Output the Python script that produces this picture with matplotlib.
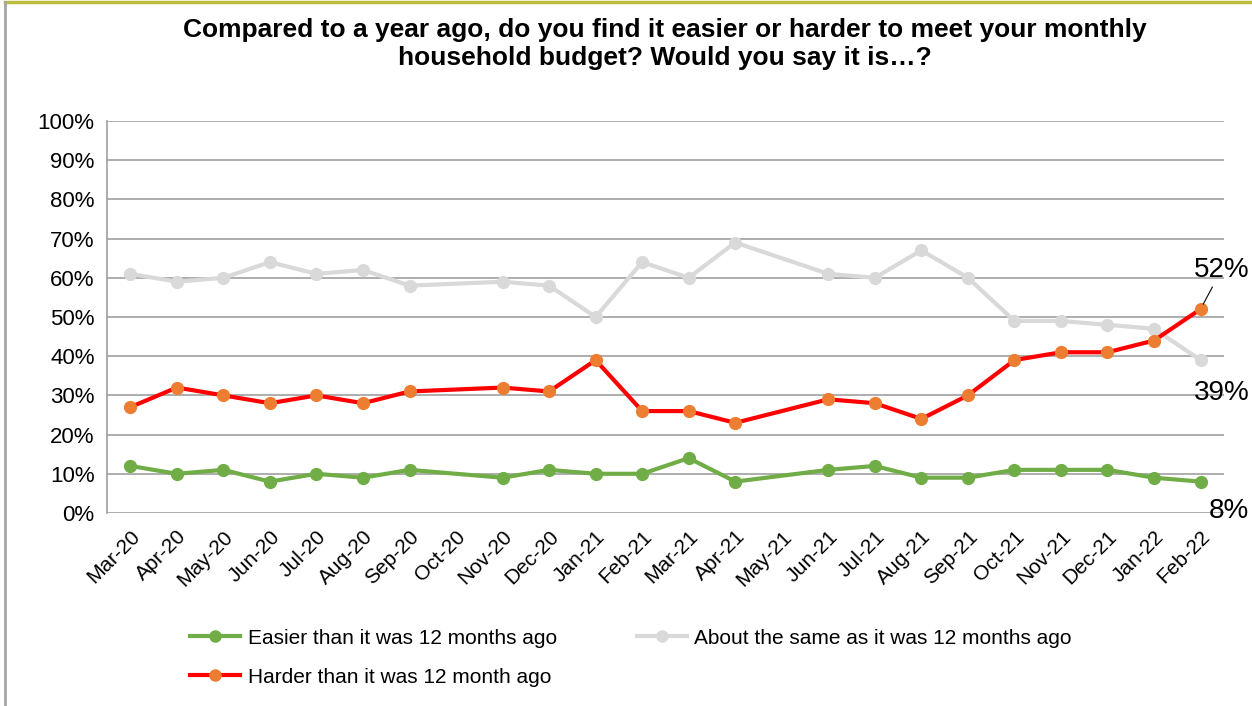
import numpy as np
import matplotlib.pyplot as plt
from matplotlib.lines import Line2D

plt.rcParams["font.family"] = ["Liberation Sans", "DejaVu Sans"]

# Monate (Okt-20 und Mai-21 ohne Umfrage)
months = ["Mar-20", "Apr-20", "May-20", "Jun-20", "Jul-20", "Aug-20", "Sep-20", "Oct-20",
          "Nov-20", "Dec-20", "Jan-21", "Feb-21", "Mar-21", "Apr-21", "May-21", "Jun-21",
          "Jul-21", "Aug-21", "Sep-21", "Oct-21", "Nov-21", "Dec-21", "Jan-22", "Feb-22"]

easier = [12, 10, 11, 8, 10, 9, 11, None, 9, 11, 10, 10, 14, 8, None, 11,
          12, 9, 9, 11, 11, 11, 9, 8]
same = [61, 59, 60, 64, 61, 62, 58, None, 59, 58, 50, 64, 60, 69, None, 61,
        60, 67, 60, 49, 49, 48, 47, 39]
harder = [27, 32, 30, 28, 30, 28, 31, None, 32, 31, 39, 26, 26, 23, None, 29,
          28, 24, 30, 39, 41, 41, 44, 52]

labels = ["Easier than it was 12 months ago",
          "About the same as it was 12 months ago",
          "Harder than it was 12 month ago"]

fig = plt.figure(figsize=(12.52, 7.06), dpi=100)
ax = fig.add_axes([0.0855, 0.2734, 0.892, 0.5552])

x = np.arange(len(months))


def plot_series(vals, line_col, mark_col, lw):
    # fehlende monate überspringen, linie trotzdem durchziehen
    xs = [i for i, v in enumerate(vals) if v is not None]
    ys = [v for v in vals if v is not None]
    ax.plot(xs, ys, color=line_col, lw=lw, marker="o", markersize=8.5,
            markerfacecolor=mark_col, markeredgecolor=mark_col, zorder=3)


plot_series(same, "#D9D9D9", "#D9D9D9", 3)
plot_series(easier, "#70AD47", "#70AD47", 3)
plot_series(harder, "#FF0000", "#ED7D31", 3)

ax.set_xlim(-0.5, len(months) - 0.5)
ax.set_ylim(0, 100)
ax.set_yticks(np.arange(0, 101, 10))
ax.set_yticklabels([f"{v}%" for v in range(0, 101, 10)], fontsize=16)
ax.set_xticks(x)
ax.set_xticklabels(months, fontsize=15, rotation=45, ha="right", rotation_mode="anchor")
ax.tick_params(axis="both", length=0)
ax.tick_params(axis="y", pad=9)
ax.tick_params(axis="x", pad=10)
ax.yaxis.grid(True, color="#A0A0A0", lw=1.2)
ax.set_axisbelow(True)
for s in ["top", "right", "bottom"]:
    ax.spines[s].set_visible(False)
ax.spines["left"].set_color("#A0A0A0")
ax.spines["left"].set_linewidth(1.2)

# endwerte beschriften
ax.annotate(f"{harder[-1]}%", xy=(23, harder[-1]), xytext=(23.45, 62),
            fontsize=20, ha="center", va="center",
            arrowprops=dict(arrowstyle="-", color="black", lw=0.8, shrinkA=1, shrinkB=4),
            annotation_clip=False)
ax.text(23.45, 30.5, f"{same[-1]}%", fontsize=20, ha="center", va="center", clip_on=False)
ax.text(23.6, 0.5, f"{easier[-1]}%", fontsize=20, ha="center", va="center", clip_on=False)

fig.text(0.531, 0.938, "Compared to a year ago, do you find it easier or harder to meet your monthly\nhousehold budget? Would you say it is\u2026?",
         ha="center", va="center", fontsize=19, fontweight="bold", linespacing=1.22)

h_easier = Line2D([0], [0], color="#70AD47", lw=3, marker="o", markersize=8)
h_same = Line2D([0], [0], color="#D9D9D9", lw=3, marker="o", markersize=8)
h_harder = Line2D([0], [0], color="#FF0000", lw=3, marker="o", markersize=8,
                  markerfacecolor="#ED7D31", markeredgecolor="#ED7D31")
# reihenfolge spaltenweise, damit "Harder" in der zweiten zeile links landet
fig.legend([h_easier, h_harder, h_same], [labels[0], labels[2], labels[1]],
           loc="upper left", bbox_to_anchor=(0.137, 0.136),
           ncol=2, frameon=False, fontsize=15, handlelength=2.4, handletextpad=0.35,
           columnspacing=3.85, labelspacing=0.95)

# rahmen wie im original
fig.add_artist(Line2D([0.004, 1], [0.997, 0.997], color="#BDBD3C", lw=2.5))
fig.add_artist(Line2D([0.004, 0.004], [0, 0.997], color="#A6A6A6", lw=2))

fig.savefig("out.png", dpi=100)
